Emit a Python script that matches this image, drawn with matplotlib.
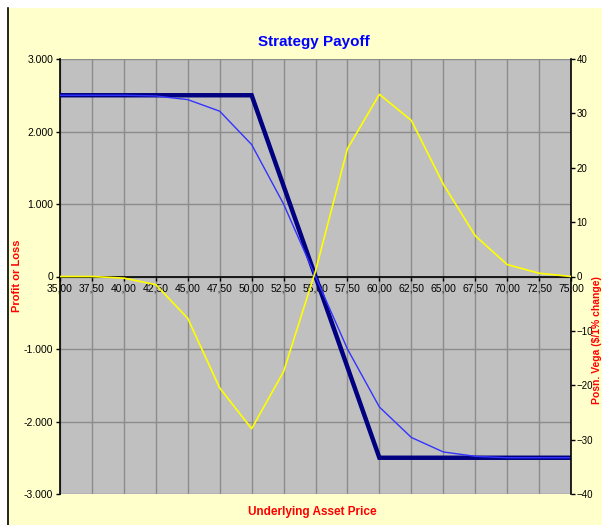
import matplotlib
matplotlib.use("Agg")
import matplotlib.pyplot as plt
from matplotlib import font_manager
from matplotlib.ticker import FixedLocator, FuncFormatter

# Underlying prices (category axis) and the three series.
prices = [35.0, 37.5, 40.0, 42.5, 45.0, 47.5, 50.0, 52.5, 55.0,
          57.5, 60.0, 62.5, 65.0, 67.5, 70.0, 72.5, 75.0]
payoff_expiry = [2500, 2500, 2500, 2500, 2500, 2500, 2500, 1250, 0,
                 -1250, -2500, -2500, -2500, -2500, -2500, -2500, -2500]
payoff_now = [2500, 2500, 2500, 2490, 2440, 2280, 1820, 1000, 0,
              -1000, -1800, -2220, -2420, -2480, -2500, -2500, -2500]
posn_vega = [0, 0, -0.3, -1.5, -7.7, -20.5, -28.0, -17.5, 1.0,
             23.5, 33.5, 28.7, 17.0, 7.5, 2.2, 0.6, 0.0]

pl_ticks = [-3000, -2000, -1000, 0, 1000, 2000, 3000]
vega_ticks = [-40, -30, -20, -10, 0, 10, 20, 30, 40]

installed = {f.name for f in font_manager.fontManager.ttflist}
narrow = "Liberation Sans Narrow" if "Liberation Sans Narrow" in installed else "Liberation Sans"
plt.rcParams["font.family"] = [narrow, "DejaVu Sans"]

BG = "#FFFFCC"
PLOT_BG = "#C0C0C0"
GRID = "#8C8C8C"

fig = plt.figure(figsize=(6.02, 5.25), dpi=100)
fig.patch.set_facecolor(BG)
# white margin along the top and left, black rule down the left edge
fig.patches.append(plt.Rectangle((0, 1 - 8 / 525), 1, 8 / 525, transform=fig.transFigure,
                                 facecolor="white", edgecolor="none", zorder=-5))
fig.patches.append(plt.Rectangle((0, 0), 7 / 602, 1, transform=fig.transFigure,
                                 facecolor="white", edgecolor="none", zorder=-5))
fig.lines.append(plt.Line2D([7.5 / 602, 7.5 / 602], [0, 1 - 8 / 525],
                            transform=fig.transFigure, color="black", lw=1.2))

ax = fig.add_axes([60 / 602, 31 / 525, 511 / 602, 435 / 525])
ax.set_facecolor(PLOT_BG)
ax.set_xlim(prices[0], prices[-1])
ax.set_ylim(-3000, 3000)

ax.xaxis.set_major_locator(FixedLocator(prices))
ax.yaxis.set_major_locator(FixedLocator(pl_ticks))
ax.grid(True, color=GRID, lw=1.0)
ax.set_axisbelow(True)

ax.spines["top"].set_visible(False)
ax.spines["right"].set_visible(False)
ax.spines["bottom"].set_position(("data", 0))
ax.spines["bottom"].set_linewidth(1.2)
ax.spines["left"].set_linewidth(1.2)

ax.xaxis.set_major_formatter(FuncFormatter(lambda v, p: f"{v:.2f}".replace(".", ",")))
ax.yaxis.set_major_formatter(FuncFormatter(lambda v, p: f"{int(v):,}".replace(",", ".")))
ax.tick_params(axis="x", direction="out", length=3, width=1, labelsize=7.5, pad=2)
ax.tick_params(axis="y", direction="out", length=3, width=1, labelsize=7.5, pad=2)

ax.plot(prices, payoff_expiry, color="#000080", lw=3.2, solid_joinstyle="miter", zorder=3)
ax.plot(prices, payoff_now, color="#3333FF", lw=1.0, zorder=4)

ax2 = ax.twinx()
ax2.set_ylim(-40, 40)
ax2.yaxis.set_major_locator(FixedLocator(vega_ticks))
for side in ("top", "left", "bottom"):
    ax2.spines[side].set_visible(False)
ax2.spines["right"].set_linewidth(1.2)
ax2.tick_params(axis="y", direction="out", length=3, width=1, labelsize=7, pad=1)
ax2.plot(prices, posn_vega, color="#FFFF00", lw=1.2, zorder=5)

fig.text(314 / 602, 1 - 42 / 525, "Strategy Payoff", color="#0000FF",
         fontsize=11, fontweight="bold", ha="center", va="center")
fig.text(312 / 602, 1 - 512 / 525, "Underlying Asset Price", color="#FF0000",
         fontsize=8.5, fontweight="bold", ha="center", va="center")
fig.text(17 / 602, 1 - 276 / 525, "Profit or Loss", color="#FF0000",
         fontsize=8, fontweight="bold", ha="center", va="center", rotation=90)
fig.text(597 / 602, 1 - 340 / 525, "Posn. Vega ($/1% change)", color="#FF0000",
         fontsize=7.5, fontweight="bold", ha="center", va="center", rotation=90)

fig.savefig("out.png", dpi=100, facecolor=fig.get_facecolor())
